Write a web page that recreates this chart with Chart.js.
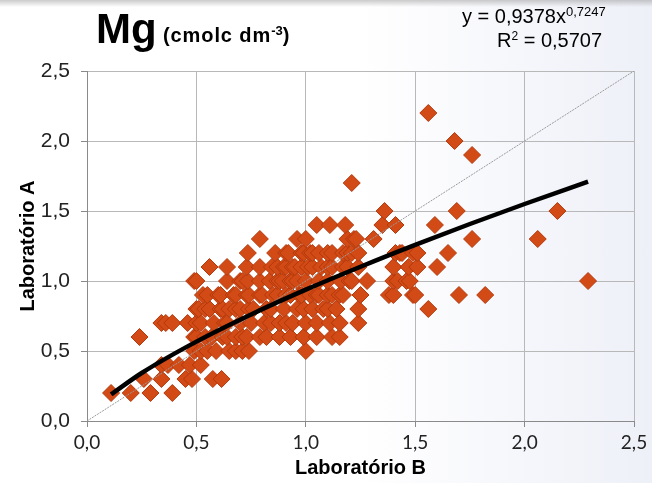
<!DOCTYPE html>
<html>
<head>
<meta charset="utf-8">
<script src="https://cdn.jsdelivr.net/npm/chart.js@4.4.0/dist/chart.umd.min.js"></script>
<style>
  html, body { margin: 0; padding: 0; }
  body { width: 652px; height: 483px; overflow: hidden;
         background: linear-gradient(to right, #ffffff 0%, #ffffff 55%, #eef0f8 100%); position: relative; }
  .shade { position: absolute; left: 0; top: 0; width: 652px; height: 7px;
           background: linear-gradient(to bottom, rgba(140,140,140,0.45), rgba(150,150,150,0)); }
  #wrap { position: absolute; left: 0; top: 0; width: 652px; height: 483px; }
  .t { position: absolute; font-family: "Liberation Sans", Arial, sans-serif; color: #000; white-space: nowrap; }
  #mg { left: 96px; top: 5px; font-size: 42px; font-weight: bold; }
  #unit { left: 163px; top: 23px; font-size: 20px; font-weight: bold; letter-spacing: 0.9px; }
  #unit sup { font-size: 13px; vertical-align: 7px; letter-spacing: 0; }
  #eq { left: 462px; top: 4px; font-size: 20px; }
  #eq sup { font-size: 13px; vertical-align: 7px; }
  #r2 { left: 497px; top: 29px; font-size: 20px; }
  #r2 sup { font-size: 12px; vertical-align: 7px; }
</style>
</head>
<body>
<div class="shade"></div>
<div id="wrap"><canvas id="c" width="652" height="483"></canvas></div>
<div class="t" id="mg">Mg</div>
<div class="t" id="unit">(cmolc dm<sup>-3</sup>)</div>
<div class="t" id="eq">y = 0,9378x<sup>0,7247</sup></div>
<div class="t" id="r2">R<sup>2</sup> = 0,5707</div>
<script>
// Laboratório B (x) and Laboratório A (y)
const labB = [
  0.11, 0.20, 0.29, 0.39,
  0.26, 0.34, 0.45, 0.48, 0.575, 0.615,
  0.34, 0.37, 0.42, 0.47, 0.52,
  0.49, 0.52, 0.55, 0.59, 0.65, 0.68, 0.71, 0.74, 1.00,
  0.24, 0.49, 0.50, 0.54, 0.57, 0.62, 0.64, 0.68, 0.71, 0.73, 0.79, 0.82, 0.88, 0.93, 0.99, 1.05, 1.12, 1.155,
  0.34, 0.36, 0.39, 0.46, 0.50, 0.52, 0.58, 0.63, 0.64, 0.70, 0.75, 0.81, 0.84, 0.88, 0.91, 0.94, 1.00, 1.05, 1.11, 1.155, 1.24,
  0.50, 0.51, 0.54, 0.56, 0.61, 0.62, 0.65, 0.68, 0.70, 0.74, 0.76, 0.82, 0.84, 0.90, 0.96, 0.99, 1.03, 1.08, 1.10, 1.14, 1.24, 1.56,
  0.53, 0.55, 0.60, 0.61, 0.67, 0.68, 0.73, 0.74, 0.79, 0.80, 0.85, 0.87, 0.91, 0.93, 0.97, 0.98, 1.02, 1.05, 1.06, 1.10, 1.12, 1.155, 1.17, 1.25, 1.38, 1.40, 1.49, 1.50, 1.70, 1.82,
  0.49, 0.50, 0.64, 0.70, 0.71, 0.735, 0.79, 0.835, 0.87, 0.88, 0.895, 0.93, 0.94, 0.96, 1.00, 1.06, 1.10, 1.16, 1.20, 1.21, 1.28, 1.40, 1.42, 1.46, 1.475, 2.29,
  0.56, 0.64, 0.73, 0.79, 0.845, 0.87, 0.90, 0.91, 0.94, 0.95, 0.98, 1.01, 1.03, 1.07, 1.10, 1.12, 1.17, 1.19, 1.24, 1.40, 1.47, 1.51, 1.60,
  0.735, 0.86, 0.91, 0.92, 0.98, 0.99, 1.02, 1.03, 1.06, 1.10, 1.12, 1.17, 1.19, 1.21, 1.24, 1.41, 1.43, 1.44, 1.49, 1.51, 1.65,
  0.79, 0.96, 1.00, 1.19, 1.22, 1.23, 1.31, 1.76, 2.06,
  1.05, 1.11, 1.18, 1.35, 1.41, 1.59,
  1.36, 1.69, 2.15,
  1.21,
  1.76,
  1.68,
  1.56
];
const labA = [
  0.2, 0.2, 0.2, 0.2,
  0.3, 0.3, 0.3, 0.3, 0.3, 0.3,
  0.4, 0.4, 0.4, 0.4, 0.4,
  0.5, 0.5, 0.5, 0.5, 0.5, 0.5, 0.5, 0.5, 0.5,
  0.6, 0.6, 0.6, 0.6, 0.6, 0.6, 0.6, 0.6, 0.6, 0.6, 0.6, 0.6, 0.6, 0.6, 0.6, 0.6, 0.6, 0.6,
  0.7, 0.7, 0.7, 0.7, 0.7, 0.7, 0.7, 0.7, 0.7, 0.7, 0.7, 0.7, 0.7, 0.7, 0.7, 0.7, 0.7, 0.7, 0.7, 0.7, 0.7,
  0.8, 0.8, 0.8, 0.8, 0.8, 0.8, 0.8, 0.8, 0.8, 0.8, 0.8, 0.8, 0.8, 0.8, 0.8, 0.8, 0.8, 0.8, 0.8, 0.8, 0.8, 0.8,
  0.9, 0.9, 0.9, 0.9, 0.9, 0.9, 0.9, 0.9, 0.9, 0.9, 0.9, 0.9, 0.9, 0.9, 0.9, 0.9, 0.9, 0.9, 0.9, 0.9, 0.9, 0.9, 0.9, 0.9, 0.9, 0.9, 0.9, 0.9, 0.9, 0.9,
  1.0, 1.0, 1.0, 1.0, 1.0, 1.0, 1.0, 1.0, 1.0, 1.0, 1.0, 1.0, 1.0, 1.0, 1.0, 1.0, 1.0, 1.0, 1.0, 1.0, 1.0, 1.0, 1.0, 1.0, 1.0, 1.0,
  1.1, 1.1, 1.1, 1.1, 1.1, 1.1, 1.1, 1.1, 1.1, 1.1, 1.1, 1.1, 1.1, 1.1, 1.1, 1.1, 1.1, 1.1, 1.1, 1.1, 1.1, 1.1, 1.1,
  1.2, 1.2, 1.2, 1.2, 1.2, 1.2, 1.2, 1.2, 1.2, 1.2, 1.2, 1.2, 1.2, 1.2, 1.2, 1.2, 1.2, 1.2, 1.2, 1.2, 1.2,
  1.3, 1.3, 1.3, 1.3, 1.3, 1.3, 1.3, 1.3, 1.3,
  1.4, 1.4, 1.4, 1.4, 1.4, 1.4,
  1.5, 1.5, 1.5,
  1.7,
  1.9,
  2.0,
  2.2
];
// power trendline, points
const trendB = [0.11, 0.25, 0.50, 0.75, 1.00, 1.25, 1.50, 1.75, 2.00, 2.29];
const trendA = [0.19, 0.343, 0.567, 0.761, 0.938, 1.102, 1.258, 1.407, 1.550, 1.71];
// 1:1 reference line
const lineB = [0.0, 2.5];
const lineA = [0.0, 2.5];
const tickValues = [0, 0.5, 1.0, 1.5, 2.0, 2.5];

const pts = (xs, ys) => xs.map((x, i) => ({ x: x, y: ys[i] }));
const fmt = v => Number(v).toFixed(1).replace('.', ',');

new Chart(document.getElementById('c'), {
  type: 'scatter',
  data: {
    datasets: [
      { label: 'trend', data: pts(trendB, trendA), showLine: true, borderColor: '#000', borderWidth: 4.5,
        pointRadius: 0, cubicInterpolationMode: 'monotone', fill: false },
      { label: '1:1', data: pts(lineB, lineA), showLine: true, borderColor: '#9a9a9a', borderWidth: 1,
        borderDash: [2, 1], pointRadius: 0, fill: false },
      { label: 'Mg', data: pts(labB, labA), pointStyle: 'rectRot', pointRadius: 8.5,
        backgroundColor: '#d24a15', borderColor: '#b4390c', borderWidth: 1 }
    ]
  },
  options: {
    responsive: false, animation: false, events: [],
    layout: { padding: { left: 0, top: 71, right: 18, bottom: 0 } },
    plugins: { legend: { display: false }, tooltip: { enabled: false } },
    scales: {
      x: {
        type: 'linear', min: 0, max: 2.5,
        afterBuildTicks: s => { s.ticks = tickValues.map(v => ({ value: v })); },
        afterFit: s => { s.height = 62; },
        grid: { color: '#b8b8b8', lineWidth: 1, tickLength: 6, tickColor: '#8a8a8a' },
        border: { color: '#8a8a8a', width: 1 },
        ticks: { callback: fmt, color: '#222', padding: 4, maxRotation: 0,
                 font: { family: 'Lato, "Open Sans", sans-serif', size: 19 } },
        title: { display: true, text: 'Laboratório B', color: '#000', padding: { top: 0, bottom: 3 },
                 font: { family: '"Liberation Sans", Arial, sans-serif', size: 20, weight: 'bold' } }
      },
      y: {
        type: 'linear', min: 0, max: 2.5,
        afterBuildTicks: s => { s.ticks = tickValues.map(v => ({ value: v })); },
        afterFit: s => { s.width = 87; },
        grid: { color: '#b8b8b8', lineWidth: 1, tickLength: 6, tickColor: '#8a8a8a' },
        border: { color: '#8a8a8a', width: 1 },
        ticks: { callback: fmt, color: '#222', padding: 11,
                 font: { family: '"Liberation Sans", Arial, sans-serif', size: 21 } },
        title: { display: true, text: 'Laboratório A', color: '#000', padding: { top: 16, bottom: 0 },
                 font: { family: '"Liberation Sans", Arial, sans-serif', size: 20, weight: 'bold' } }
      }
    }
  }
});
</script>
</body>
</html>
